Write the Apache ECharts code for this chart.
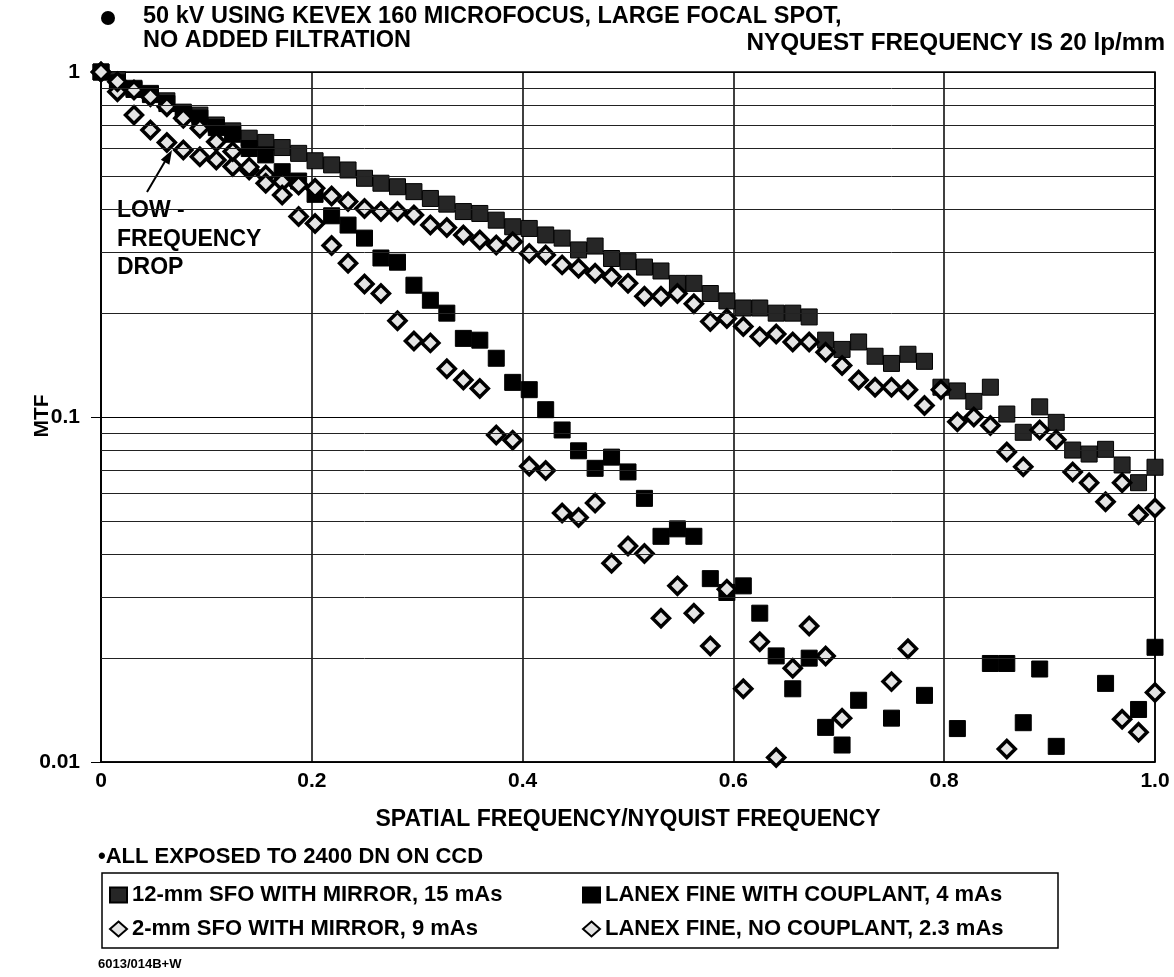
<!DOCTYPE html>
<html>
<head>
<meta charset="utf-8">
<title>MTF vs spatial frequency</title>
<script src="https://cdn.jsdelivr.net/npm/echarts@6/dist/echarts.min.js"></script>
<style>
  html, body { margin: 0; padding: 0; background: #fff; }
  #chart { width: 1174px; height: 977px; }
</style>
</head>
<body>
<div id="chart"></div>
<script>
// spatial frequency / nyquist, one sample per 1/64
const freq = [0, 0.0156, 0.0313, 0.0469, 0.0625, 0.0781, 0.0938, 0.1094, 0.125, 0.1406,
  0.1563, 0.1719, 0.1875, 0.2031, 0.2188, 0.2344, 0.25, 0.2656, 0.2813, 0.2969,
  0.3125, 0.3281, 0.3438, 0.3594, 0.375, 0.3906, 0.4063, 0.4219, 0.4375, 0.4531,
  0.4688, 0.4844, 0.5, 0.5156, 0.5313, 0.5469, 0.5625, 0.5781, 0.5938, 0.6094,
  0.625, 0.6406, 0.6563, 0.6719, 0.6875, 0.7031, 0.7188, 0.7344, 0.75, 0.7656,
  0.7813, 0.7969, 0.8125, 0.8281, 0.8438, 0.8594, 0.875, 0.8906, 0.9063, 0.9219,
  0.9375, 0.9531, 0.9688, 0.9844, 1.0];

// 12-mm SFO with mirror, 15 mAs
const sfo12 = [1.0, 0.95, 0.897, 0.867, 0.825, 0.765, 0.75, 0.702, 0.675, 0.643,
  0.625, 0.604, 0.581, 0.553, 0.538, 0.52, 0.492, 0.476, 0.465, 0.45,
  0.43, 0.414, 0.394, 0.389, 0.372, 0.356, 0.352, 0.337, 0.33, 0.305,
  0.313, 0.288, 0.282, 0.272, 0.265, 0.244, 0.244, 0.228, 0.217, 0.207,
  0.207, 0.2, 0.2, 0.195, 0.167, 0.157, 0.165, 0.15, 0.143, 0.152,
  0.145, 0.122, 0.119, 0.111, 0.122, 0.102, 0.0903, 0.107, 0.0965, 0.0802,
  0.0781, 0.0806, 0.0726, 0.0645, 0.0715];

// Lanex fine with couplant, 4 mAs (null = below 0.01, off the chart)
const lanexCoup = [1.0, 0.93, 0.89, 0.86, 0.81, 0.76, 0.735, 0.69, 0.66, 0.6,
  0.575, 0.514, 0.483, 0.442, 0.383, 0.36, 0.33, 0.289, 0.281, 0.241,
  0.218, 0.2, 0.169, 0.167, 0.148, 0.126, 0.12, 0.105, 0.0917, 0.0798,
  0.071, 0.0765, 0.0693, 0.0581, 0.0451, 0.0474, 0.0451, 0.034, 0.031, 0.0324,
  0.027, 0.0203, 0.0163, 0.02, 0.0126, 0.0112, 0.0151, null, 0.0134, null,
  0.0156, null, 0.0125, null, 0.0193, 0.0193, 0.013, 0.0186, 0.0111, null,
  null, 0.0169, null, 0.0142, 0.0215];

// 2-mm SFO with mirror, 9 mAs
const sfo2 = [1.0, 0.877, 0.75, 0.679, 0.625, 0.594, 0.568, 0.556, 0.532, 0.52,
  0.503, 0.481, 0.47, 0.46, 0.437, 0.421, 0.402, 0.394, 0.394, 0.385,
  0.36, 0.354, 0.337, 0.326, 0.315, 0.322, 0.298, 0.295, 0.276, 0.27,
  0.261, 0.255, 0.244, 0.224, 0.224, 0.228, 0.213, 0.189, 0.193, 0.183,
  0.171, 0.174, 0.165, 0.165, 0.154, 0.141, 0.128, 0.122, 0.122, 0.12,
  0.108, 0.12, 0.0968, 0.1, 0.0945, 0.0792, 0.0717, 0.0917, 0.0859, 0.0693,
  0.0645, 0.0568, 0.0645, 0.0521, 0.0545];

// Lanex fine, no couplant, 2.3 mAs
const lanexNoCoup = [1.0, 0.937, 0.887, 0.848, 0.793, 0.734, 0.687, 0.628, 0.588, 0.53,
  0.476, 0.44, 0.381, 0.364, 0.314, 0.279, 0.243, 0.228, 0.19, 0.166,
  0.164, 0.138, 0.128, 0.121, 0.0887, 0.0856, 0.072, 0.07, 0.0527, 0.0511,
  0.0563, 0.0377, 0.0423, 0.0402, 0.0261, 0.0324, 0.027, 0.0217, 0.0317, 0.0163,
  0.0223, 0.0103, 0.0187, 0.0248, 0.0203, 0.0134, 0.0097, null, 0.0171, 0.0213,
  null, null, null, null, 0.0098, 0.0109, null, null, null, null,
  null, null, 0.0133, 0.0122, 0.0159];

const yMinor = [0.02, 0.03, 0.04, 0.05, 0.06, 0.07, 0.08, 0.09,
  0.2, 0.3, 0.4, 0.5, 0.6, 0.7, 0.8, 0.9];

const seriesNames = [
  '12-mm SFO WITH MIRROR, 15 mAs',
  'LANEX FINE WITH COUPLANT, 4 mAs',
  '2-mm SFO WITH MIRROR, 9 mAs',
  'LANEX FINE, NO COUPLANT, 2.3 mAs'
];

(function(){
  'use strict';

  const FONT = '"Liberation Sans", Arial, sans-serif';

  function pairs(values){
    const out = [];
    values.forEach((v, i)=>{
      if(v !== null) out.push([freq[i], v]);
    });
    return out;
  }

  function squareSeries(name, values, color){
    return {
      name: name, type: 'scatter', data: pairs(values), z: 3,
      symbol: 'rect', symbolSize: 16,
      itemStyle: { color: color, borderColor: '#000', borderWidth: 1, opacity: 1 }
    };
  }

  function diamondSeries(name, values, fill){
    return {
      name: name, type: 'scatter', data: pairs(values), z: 4,
      symbol: 'diamond', symbolSize: 17,
      itemStyle: { color: fill, borderColor: '#000', borderWidth: 3.5, opacity: 1 }
    };
  }

  function text(left, top, str, size, extra){
    return Object.assign({
      type: 'text', left: left, top: top,
      style: { text: str, font: 'bold ' + size + 'px ' + FONT, fill: '#000' }
    }, extra || {});
  }

  function init(){
    const chart = echarts.init(document.getElementById('chart'), null, { renderer: 'canvas' });

    const legendText = { fontFamily: FONT, fontWeight: 'bold', fontSize: 22, color: '#000' };

    chart.setOption({
      backgroundColor: '#fff',
      animation: false,
      grid: { left: 101, right: 19, top: 72, bottom: 215, show: true, borderColor: '#000', borderWidth: 1.5 },
      xAxis: {
        type: 'value', min: 0, max: 1, interval: 0.2,
        name: 'SPATIAL FREQUENCY/NYQUIST FREQUENCY', nameLocation: 'middle', nameGap: 46,
        nameTextStyle: { fontFamily: FONT, fontWeight: 'bold', fontSize: 23, color: '#000' },
        axisLine: { lineStyle: { color: '#000', width: 1.5 } },
        axisTick: { show: false },
        axisLabel: {
          margin: 9, fontFamily: FONT, fontWeight: 'bold', fontSize: 21, color: '#000',
          formatter: (v)=> v === 0 ? '0' : v.toFixed(1)
        },
        splitLine: { show: true, lineStyle: { color: '#000', width: 1.5 } }
      },
      yAxis: {
        type: 'log', logBase: 10, min: 0.01, max: 1,
        axisLine: { lineStyle: { color: '#000', width: 1.5 } },
        axisTick: { show: true, length: 10, lineStyle: { color: '#000' } },
        axisLabel: {
          margin: 21, fontFamily: FONT, fontWeight: 'bold', fontSize: 21, color: '#000',
          formatter: (v)=> String(Number(v.toPrecision(3)))
        },
        splitLine: { show: true, lineStyle: { color: '#000', width: 1.2 } }
      },
      legend: [
        {
          data: [seriesNames[0], seriesNames[2]], orient: 'vertical',
          left: 104, top: 879, itemGap: 12, itemWidth: 17, itemHeight: 15,
          textStyle: legendText, selectedMode: false
        },
        {
          data: [seriesNames[1], seriesNames[3]], orient: 'vertical',
          left: 577, top: 879, itemGap: 12, itemWidth: 17, itemHeight: 15,
          textStyle: legendText, selectedMode: false
        }
      ],
      series: [
        {
          name: 'grid', type: 'line', data: [], z: 1, silent: true,
          markLine: {
            silent: true, symbol: ['none', 'none'], label: { show: false },
            lineStyle: { color: '#222', width: 1, type: 'solid' },
            data: yMinor.map((v)=>({ yAxis: v }))
          }
        },
        squareSeries(seriesNames[0], sfo12, '#262626'),
        squareSeries(seriesNames[1], lanexCoup, '#000'),
        diamondSeries(seriesNames[2], sfo2, '#e4e4e4'),
        diamondSeries(seriesNames[3], lanexNoCoup, '#e4e4e4')
      ],
      graphic: [
        { type: 'circle', shape: { cx: 108, cy: 18, r: 7 }, style: { fill: '#000' } },
        text(143, 5, '50 kV USING KEVEX 160 MICROFOCUS, LARGE FOCAL SPOT,', 23.5),
        text(143, 29, 'NO ADDED FILTRATION', 23.5),
        text(null, 31, 'NYQUEST FREQUENCY IS 20 lp/mm', 24.3, { right: 9 }),
        {
          type: 'text', x: 42, y: 416, rotation: Math.PI / 2,
          style: { text: 'MTF', font: 'bold 21px ' + FONT, fill: '#000', align: 'center', verticalAlign: 'middle' }
        },
        text(117, 199, 'LOW -', 23),
        text(117, 228, 'FREQUENCY', 23),
        text(117, 256, 'DROP', 23),
        { type: 'line', shape: { x1: 147, y1: 192, x2: 167, y2: 158 }, style: { stroke: '#000', lineWidth: 2 } },
        { type: 'polygon', shape: { points: [[172, 150], [169.4, 164.7], [160.8, 159.7]] }, style: { fill: '#000' } },
        text(98, 846, '\u2022ALL EXPOSED TO 2400 DN ON CCD', 22),
        { type: 'rect', shape: { x: 102, y: 873, width: 956, height: 75 }, style: { fill: 'none', stroke: '#000', lineWidth: 1.5 }, z: -1 },
        text(98, 958, '6013/014B+W', 13)
      ]
    });
  }

  if(document.readyState === 'loading'){
    document.addEventListener('DOMContentLoaded', init);
  }else{
    init();
  }
})();
</script>
</body>
</html>
